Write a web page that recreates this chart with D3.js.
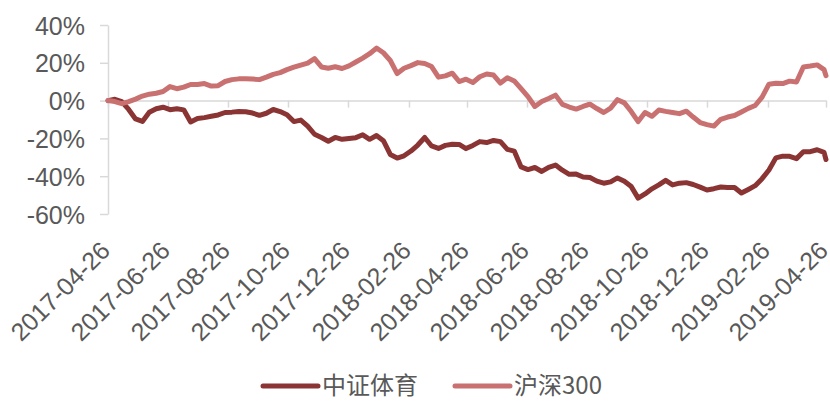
<!DOCTYPE html>
<html>
<head>
<meta charset="utf-8">
<script src="https://cdnjs.cloudflare.com/ajax/libs/d3/7.8.5/d3.min.js"></script>
<style>
  body { margin: 0; background: #fff; }
  svg { display: block; }
</style>
</head>
<body>
<div id="chart"></div>
<script>
// weekly closes, cumulative return in %, from 2017-04-26 (last point is 2019-04-26)
var startDate = "2017-04-26";
var endDate = "2019-04-26";
var tickLabels = ["2017-04-26", "2017-06-26", "2017-08-26", "2017-10-26", "2017-12-26",
  "2018-02-26", "2018-04-26", "2018-06-26", "2018-08-26", "2018-10-26",
  "2018-12-26", "2019-02-26", "2019-04-26"];
var yTicks = [-60, -40, -20, 0, 20, 40];
var seriesNames = ["中证体育", "沪深300"];
var seriesColors = ["#8b3434", "#c97070"];

var sportsIdx = [0, 0.7, -0.5, -4.7, -9.7, -11.0, -6.2, -4.3, -3.5, -4.8,
  -4.3, -4.9, -11.3, -9.5, -9.0, -8.3, -7.6, -6.3, -6.1, -5.8,
  -5.9, -6.6, -7.8, -6.7, -4.7, -5.8, -7.5, -11.1, -10.3, -13.5,
  -17.8, -19.5, -21.5, -19.5, -20.5, -20.0, -19.6, -18.1, -20.5, -18.5,
  -21.2, -28.5, -30.4, -29.2, -26.7, -23.5, -19.5, -24.0, -25.3, -23.7,
  -23.1, -23.2, -25.4, -23.7, -21.7, -22.2, -21.1, -21.7, -25.8, -26.7,
  -35.1, -36.5, -35.4, -37.5, -35.3, -34.1, -36.8, -39.0, -38.9, -40.4,
  -40.7, -42.6, -43.7, -43.0, -40.9, -42.7, -45.5, -51.6, -49.4, -46.7,
  -44.6, -42.2, -44.6, -43.7, -43.4, -44.4, -45.8, -47.3, -46.6, -45.7,
  -46.0, -46.0, -48.9, -47.0, -45.0, -41.3, -36.7, -30.3, -29.4, -29.5,
  -30.7, -27.0, -27.0, -26.0, -27.4, -31.2];

var hs300 = [0, -0.5, -1.6, -0.5, 0.8, 2.4, 3.4, 3.9, 4.8, 7.4,
  6.3, 7.1, 8.5, 8.5, 9.0, 7.7, 7.9, 10.1, 11.1, 11.5,
  11.6, 11.4, 11.1, 12.4, 13.9, 14.8, 16.4, 17.7, 18.8, 19.8,
  22.2, 17.8, 17.1, 17.9, 17.0, 18.4, 20.4, 22.5, 24.8, 27.8,
  25.3, 21.2, 14.3, 17.1, 18.5, 20.1, 19.6, 18.0, 12.4, 13.1,
  14.5, 10.1, 11.3, 9.6, 12.6, 14.1, 13.5, 9.3, 12.1, 10.4,
  6.3, 2.1, -3.1, -0.5, 1.1, 2.9, -2.0, -3.4, -4.5, -3.1,
  -1.9, -4.2, -6.3, -4.0, 0.5, -1.2, -5.8, -11.1, -6.3, -8.3,
  -5.0, -5.7, -6.3, -6.9, -5.6, -8.7, -11.6, -12.7, -13.5, -9.9,
  -8.7, -7.9, -6.0, -4.1, -2.6, 1.8, 8.7, 9.2, 9.0, 10.3,
  9.8, 17.8, 18.3, 18.9, 16.4, 13.2];

var parse = d3.timeParse("%Y-%m-%d");
var t0 = parse(startDate), t1 = parse(endDate);
var dates = d3.timeDay.range(t0, t1, 7).concat([t1]);

var chartW = 830, chartH = 401;
var plotLeft = 108, plotRight = 826, plotTop = 25, plotBottom = 214;

var svg = d3.select("#chart").append("svg")
  .attr("width", chartW)
  .attr("height", chartH);

var x = d3.scaleTime().domain([t0, t1]).range([plotLeft, plotRight]);
var y = d3.scaleLinear().domain([-60, 40]).range([plotBottom, plotTop]);

var tickFont = "25px 'Liberation Sans', Arial, sans-serif";

// y axis
var yAxis = svg.append("g")
  .attr("transform", "translate(" + plotLeft + ",0)")
  .call(d3.axisLeft(y).tickValues(yTicks).tickSize(8).tickSizeOuter(0).tickPadding(15)
    .tickFormat(function(d) { return d + "%"; }));
yAxis.selectAll("path, line").attr("stroke", "#d9d9d9").attr("stroke-width", 1.5);
yAxis.selectAll("text").attr("fill", "#595959").style("font", tickFont).attr("dy", "0.36em");

// x axis sits on the 0% line, labels drop below the plot
var xAxis = svg.append("g")
  .attr("transform", "translate(0," + y(0) + ")")
  .call(d3.axisBottom(x).tickValues(tickLabels.map(parse)).tickSize(7).tickSizeOuter(0)
    .tickFormat(d3.timeFormat("%Y-%m-%d")));
xAxis.selectAll("path, line").attr("stroke", "#d9d9d9").attr("stroke-width", 1.5);
xAxis.selectAll("text")
  .attr("fill", "#595959")
  .style("font", tickFont)
  .attr("text-anchor", "end")
  .attr("x", 0).attr("y", 0).attr("dy", "0.35em")
  .attr("transform", "translate(-3," + (246 - y(0)) + ") rotate(-45)");

var line = d3.line()
  .x(function(d, i) { return x(dates[i]); })
  .y(function(d) { return y(d); });

[sportsIdx, hs300].forEach(function(s, k) {
  svg.append("path")
    .datum(s)
    .attr("fill", "none")
    .attr("stroke", seriesColors[k])
    .attr("stroke-width", 5)
    .attr("stroke-linejoin", "round")
    .attr("stroke-linecap", "round")
    .attr("d", line);
});

// legend
var legendX = [263, 455];
var legend = svg.append("g");
seriesNames.forEach(function(name, k) {
  legend.append("line")
    .attr("x1", legendX[k]).attr("x2", legendX[k] + 55)
    .attr("y1", 386).attr("y2", 386)
    .attr("stroke", seriesColors[k])
    .attr("stroke-width", 5)
    .attr("stroke-linecap", "round");
  legend.append("text")
    .attr("x", legendX[k] + 59)
    .attr("y", 386)
    .attr("dy", "0.35em")
    .attr("fill", "#595959")
    .style("font", "24px 'Noto Sans CJK SC', sans-serif")
    .text(name);
});
</script>
</body>
</html>
